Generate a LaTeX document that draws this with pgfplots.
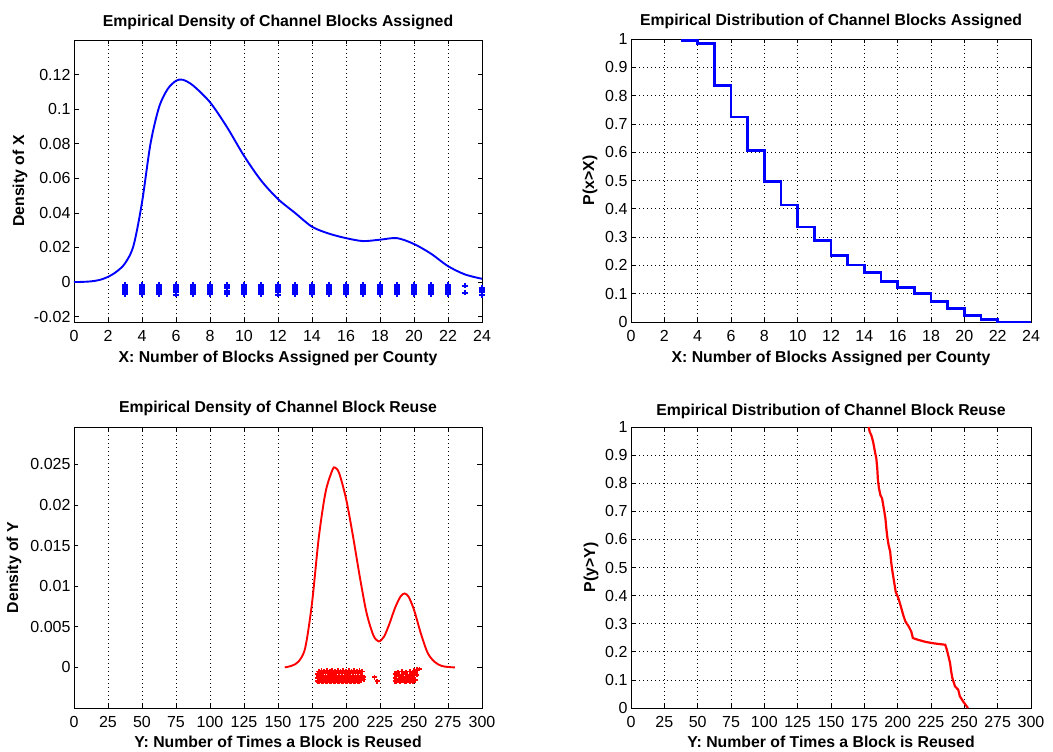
\documentclass[border=0pt]{standalone}
\usepackage{fontspec}
\setmainfont{Liberation Sans}
\usepackage{pgfplots}
\usepackage{pgfplotstable}
\pgfplotsset{compat=1.18}

\definecolor{mblue}{RGB}{0,0,255}
\definecolor{mred}{RGB}{255,0,0}

% jittered rug marks under the density of X
\pgfplotstableread{
x    a       b       c       d       e       f
3   -0.0016 -0.0027 -0.0038 -0.0049 -0.0060 -0.0071
4   -0.0015 -0.0026 -0.0037 -0.0048 -0.0059 -0.0070
5   -0.0016 -0.0027 -0.0037 -0.0048 -0.0060 -0.0071
6   -0.0015 -0.0026 -0.0038 -0.0049 -0.0060 -0.0072
7   -0.0016 -0.0026 -0.0037 -0.0048 -0.0059 -0.0070
8   -0.0015 -0.0027 -0.0038 -0.0049 -0.0060 -0.0071
9   -0.0016 -0.0026 -0.0037 -0.0049 -0.0059 -0.0070
10  -0.0015 -0.0026 -0.0038 -0.0048 -0.0060 -0.0071
11  -0.0016 -0.0027 -0.0037 -0.0048 -0.0059 -0.0070
12  -0.0015 -0.0026 -0.0038 -0.0049 -0.0060 -0.0072
13  -0.0016 -0.0027 -0.0037 -0.0048 -0.0059 -0.0070
14  -0.0015 -0.0026 -0.0038 -0.0049 -0.0060 -0.0071
15  -0.0016 -0.0026 -0.0037 -0.0048 -0.0059 -0.0070
16  -0.0015 -0.0027 -0.0038 -0.0049 -0.0060 -0.0071
17  -0.0016 -0.0026 -0.0037 -0.0048 -0.0059 -0.0070
18  -0.0015 -0.0027 -0.0038 -0.0049 -0.0060 -0.0071
19  -0.0016 -0.0026 -0.0037 -0.0048 -0.0059 -0.0071
20  -0.0015 -0.0026 -0.0038 -0.0049 -0.0060 -0.0070
21  -0.0016 -0.0027 -0.0037 -0.0048 -0.0059 -0.0071
22  -0.0015 -0.0026 -0.0038 -0.0049 -0.0060 -0.0070
23  -0.0021 nan     nan     -0.0062 nan     nan
24  -0.0032 -0.0045 nan     -0.0058 -0.0076 nan
}\rugX

% jittered rug marks under the density of Y
\pgfplotstableread{
x    a       b       c
179 -0.0008 -0.0013 -0.0017
180 -0.0005 -0.0011 -0.0018
181 -0.0007 -0.0014 -0.0016
182 -0.0004 -0.0010 -0.0017
183 -0.0006 -0.0012 -0.0018
184 -0.0005 -0.0013 -0.0016
185 -0.0007 -0.0011 -0.0018
186 -0.0004 -0.0012 -0.0017
187 -0.0006 -0.0010 -0.0016
188 -0.0005 -0.0013 -0.0018
189 -0.0008 -0.0011 -0.0017
190 -0.0004 -0.0012 -0.0016
191 -0.0006 -0.0014 -0.0018
192 -0.0005 -0.0010 -0.0017
193 -0.0007 -0.0012 -0.0016
194 -0.0004 -0.0013 -0.0018
195 -0.0006 -0.0011 -0.0017
196 -0.0005 -0.0012 -0.0016
197 -0.0007 -0.0010 -0.0018
198 -0.0004 -0.0013 -0.0017
199 -0.0006 -0.0011 -0.0016
200 -0.0005 -0.0012 -0.0018
201 -0.0007 -0.0014 -0.0017
202 -0.0004 -0.0010 -0.0016
203 -0.0006 -0.0012 -0.0018
204 -0.0005 -0.0013 -0.0017
205 -0.0007 -0.0011 -0.0016
206 -0.0004 -0.0012 -0.0018
207 -0.0006 -0.0010 -0.0017
208 -0.0005 -0.0013 -0.0016
209 -0.0007 -0.0011 -0.0018
210 -0.0004 -0.0012 -0.0017
211 -0.0006 -0.0014 -0.0016
212 -0.0005 -0.0011 nan
213 nan     -0.0012 -0.0015
221 nan     -0.0012 nan
223 nan     nan     -0.0017
236 -0.0008 -0.0013 -0.0017
237 nan     -0.0011 -0.0018
238 -0.0006 nan     -0.0016
239 -0.0009 -0.0014 nan
240 nan     -0.0011 -0.0018
241 -0.0005 nan     -0.0016
242 -0.0008 -0.0012 nan
243 nan     -0.0014 -0.0017
244 -0.0006 nan     -0.0018
245 -0.0009 -0.0011 nan
246 nan     -0.0013 -0.0016
247 -0.0005 nan     -0.0018
248 -0.0007 -0.0012 nan
249 nan     -0.0010 -0.0017
250 -0.0004 -0.0013 nan
251 -0.0006 nan     -0.0016
252 -0.0003 -0.0009 nan
254 -0.0002 nan     nan
}\rugY

\pgfplotsset{
  matlab/.style={
    scale only axis,
    anchor=south west,
    axis line style={black, line width=0.8pt},
    tick align=inside,
    major tick length=4.5pt,
    tick style={black, line width=0.7pt},
    grid style={black, line width=0.7pt, dash pattern=on 0.8pt off 3.2pt},
    ticklabel style={font=\fontsize{16}{18}\selectfont},
    xticklabel style={yshift=-5pt},
    /pgf/number format/assume math mode=true,
    /pgf/number format/fixed,
    /pgf/number format/precision=3,
    scaled ticks=false,
    title style={font=\bfseries\fontsize{15.8}{18}\selectfont, anchor=center},
    label style={font=\bfseries\fontsize{15.8}{18}\selectfont},
    xlabel style={anchor=center},
    ylabel style={anchor=center},
    clip=false,
  },
  rug/.style={only marks, mark=+, mark size=2.6pt, line width=2pt},
}

\begin{document}
\begin{tikzpicture}
\useasboundingbox (0,0) rectangle (1053pt,752pt);

% top left: density of X
\begin{axis}[matlab,
  at={(74pt,430pt)}, width=408pt, height=282pt,
  xmin=0, xmax=24, ymin=-0.0231, ymax=0.14,
  xtick={0,2,...,24},
  ytick={-0.02,0,0.02,0.04,0.06,0.08,0.1,0.12},
  xmajorgrids,
  title={Empirical Density of Channel Blocks Assigned},
  title style={at={(axis description cs:0.5,1.04)}},
  xlabel={X: Number of Blocks Assigned per County},
  xlabel style={at={(axis description cs:0.5,-0.128)}},
  ylabel={Density of X},
  ylabel style={at={(axis description cs:-0.132,0.5)}},
]
\addplot[mblue, line width=1.9pt, smooth, tension=0.5] coordinates {
  (0,0)(0.5,0.0001)(1,0.0004)(1.5,0.0012)(2,0.003)(2.5,0.006)(3,0.0108)(3.5,0.021)
  (4,0.046)(4.5,0.080)(5,0.101)(5.5,0.1115)(6,0.1164)(6.4,0.117)(7,0.1137)
  (8,0.104)(9,0.0896)(10,0.073)(11,0.0588)(12,0.048)(13,0.040)(14,0.032)
  (15,0.028)(16,0.0254)(17,0.0237)(18,0.0245)(19,0.0254)(20,0.022)
  (21,0.0164)(22,0.0092)(23,0.0044)(24,0.0019)
};
\addplot[rug, mblue] table[x=x, y=a] {\rugX};
\addplot[rug, mblue] table[x=x, y=b] {\rugX};
\addplot[rug, mblue] table[x=x, y=c] {\rugX};
\addplot[rug, mblue] table[x=x, y=d] {\rugX};
\addplot[rug, mblue] table[x=x, y=e] {\rugX};
\addplot[rug, mblue] table[x=x, y=f] {\rugX};
\end{axis}

% top right: distribution of X
\begin{axis}[matlab,
  at={(631pt,430pt)}, width=400pt, height=283pt,
  xmin=0, xmax=24, ymin=0, ymax=1,
  xtick={0,2,...,24},
  ytick={0,0.1,0.2,0.3,0.4,0.5,0.6,0.7,0.8,0.9,1},
  grid=major,
  title={Empirical Distribution of Channel Blocks Assigned},
  title style={at={(axis description cs:0.5,1.04)}},
  xlabel={X: Number of Blocks Assigned per County},
  xlabel style={at={(axis description cs:0.5,-0.128)}},
  ylabel={P(x>X)},
  ylabel style={at={(axis description cs:-0.1025,0.5)}},
]
\addplot[mblue, line width=2.6pt, const plot] coordinates {
  (3,0.995)(4,0.985)(5,0.835)(6,0.724)(7,0.606)(8,0.497)(9,0.413)
  (10,0.336)(11,0.287)(12,0.236)(13,0.201)(14,0.174)(15,0.144)
  (16,0.122)(17,0.100)(18,0.073)(19,0.047)(20,0.024)(21,0.009)
  (22,0.0)(24,0.0)
};
\end{axis}

% bottom left: density of Y
\begin{axis}[matlab,
  at={(74pt,44pt)}, width=408pt, height=281pt,
  xmin=0, xmax=300, ymin=-0.005, ymax=0.0296,
  xtick={0,25,...,300},
  ytick={0,0.005,0.01,0.015,0.02,0.025},
  xmajorgrids,
  title={Empirical Density of Channel Block Reuse},
  title style={at={(axis description cs:0.5,1.043)}},
  xlabel={Y: Number of Times a Block is Reused},
  xlabel style={at={(axis description cs:0.5,-0.12)}},
  ylabel={Density of Y},
  ylabel style={at={(axis description cs:-0.147,0.5)}},
]
\addplot[mred, line width=1.9pt, smooth, tension=0.5] coordinates {
  (155,0)(160,0.0002)(165,0.0007)(170,0.0024)(175,0.0079)(180,0.016)
  (185,0.0216)(190,0.0243)(192,0.0246)(195,0.0239)(200,0.0208)(205,0.0163)
  (210,0.0113)(215,0.0068)(220,0.004)(224,0.0032)(228,0.0038)(232,0.0054)
  (236,0.0073)(240,0.0087)(243,0.0091)(246,0.0087)(250,0.0071)(255,0.0042)
  (260,0.0018)(265,0.0007)(270,0.0002)(275,0.00005)(280,0)
};
\addplot[rug, mred, mark size=2.4pt, line width=1.8pt] table[x=x, y=a] {\rugY};
\addplot[rug, mred, mark size=2.4pt, line width=1.8pt] table[x=x, y=b] {\rugY};
\addplot[rug, mred, mark size=2.4pt, line width=1.8pt] table[x=x, y=c] {\rugY};
\end{axis}

% bottom right: distribution of Y
\begin{axis}[matlab,
  at={(631pt,44pt)}, width=400pt, height=281pt,
  xmin=0, xmax=300, ymin=0, ymax=1,
  xtick={0,25,...,300},
  ytick={0,0.1,0.2,0.3,0.4,0.5,0.6,0.7,0.8,0.9,1},
  grid=major,
  title={Empirical Distribution of Channel Block Reuse},
  title style={at={(axis description cs:0.5,1.033)}},
  xlabel={Y: Number of Times a Block is Reused},
  xlabel style={at={(axis description cs:0.5,-0.12)}},
  ylabel={P(y>Y)},
  ylabel style={at={(axis description cs:-0.10,0.5)}},
]
\addplot[mred, line width=2.2pt] coordinates {
  (178.2,1.0)(179.1,0.982)(180.3,0.97)(181.6,0.947)(182.3,0.929)(183,0.911)
  (184,0.888)(184.7,0.852)(185.2,0.811)(186,0.781)(187.1,0.757)(188.3,0.746)
  (189.6,0.71)(190.8,0.675)(191.5,0.639)(192.2,0.609)(193.2,0.580)(194.4,0.556)
  (195.1,0.520)(196.1,0.485)(197.3,0.450)(198.5,0.414)(200.5,0.391)(202.4,0.361)
  (204.1,0.332)(205.8,0.308)(208.3,0.290)(210.2,0.272)(211.4,0.249)(215,0.243)
  (221.1,0.235)(227.2,0.230)(235.7,0.225)(236.9,0.207)(238.1,0.184)(239.3,0.160)
  (240.1,0.131)(241,0.107)(243,0.077)(245.4,0.065)(246.6,0.042)(249,0.024)
  (252.7,0.0)
};
\end{axis}
\end{tikzpicture}
\end{document}
